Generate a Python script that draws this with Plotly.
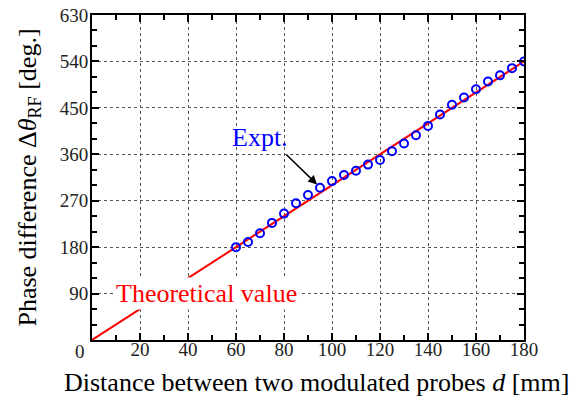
import plotly.graph_objects as go

d_expt = [60, 65, 70, 75, 80, 85, 90, 95, 100, 105, 110, 115, 120, 125, 130,
          135, 140, 145, 150, 155, 160, 165, 170, 175, 180]
theta_expt = [180, 190, 207, 227, 245, 265, 281, 295, 308, 320, 328, 340, 349, 366, 381,
              397, 415, 437, 456, 470, 486, 501, 513, 527, 540]
d_theory = [0, 180]
theta_theory = [0, 540]

x_ticks = [0, 20, 40, 60, 80, 100, 120, 140, 160, 180]
x_ticktext = ["", "20", "40", "60", "80", "100", "120", "140", "160", "180"]
y_ticks = [0, 90, 180, 270, 360, 450, 540, 630]
y_ticktext = ["", "90", "180", "270", "360", "450", "540", "630"]
origin_label = "0"

FONT = "Liberation Serif"

fig = go.Figure()
fig.add_trace(go.Scatter(x=d_theory, y=theta_theory, mode="lines",
                         line=dict(color="#ff0000", width=2), showlegend=False))
fig.add_trace(go.Scatter(x=d_expt, y=theta_expt, mode="markers",
                         marker=dict(symbol="circle-open", size=8, color="#0000ff",
                                     line=dict(width=2, color="#0000ff")),
                         showlegend=False))

fig.add_annotation(x=47.5, y=91, xref="x", yref="y", text="Theoretical value",
                   showarrow=False, font=dict(family=FONT, size=26, color="#ff0000"),
                   bgcolor="white", borderpad=1)
fig.add_annotation(x=95, y=296, ax=-35, ay=-34, xref="x", yref="y",
                   text="", showarrow=True, arrowhead=2, arrowsize=1.2,
                   arrowwidth=1.5, arrowcolor="black", standoff=4)
fig.add_annotation(x=70, y=392, xref="x", yref="y", text="Expt.",
                   showarrow=False, font=dict(family=FONT, size=26, color="#0000ff"))
# shared origin label
fig.add_annotation(x=-0.028, y=-0.036, xref="paper", yref="paper", text=origin_label,
                   xanchor="center", yanchor="middle",
                   showarrow=False, font=dict(family=FONT, size=19, color="#222222"))
# x-axis title
fig.add_annotation(x=0.52, y=-0.131, xref="paper", yref="paper",
                   xanchor="center", yanchor="middle",
                   text="Distance between two modulated probes <i>d</i> [mm]",
                   showarrow=False, font=dict(family=FONT, size=26, color="black"))

axis_common = dict(
    showline=True, linecolor="black", linewidth=2, mirror="ticks",
    ticks="inside", ticklen=7, tickwidth=2, tickcolor="black",
    showgrid=True, gridcolor="#555555", griddash="dot", gridwidth=1,
    zeroline=False, automargin=False,
    tickfont=dict(family=FONT, size=19, color="#222222"),
)

fig.update_xaxes(range=[0, 180], tickvals=x_ticks, ticktext=x_ticktext, ticklabelstandoff=-9,
                 minor=dict(dtick=10, ticks="inside", ticklen=5, tickwidth=2,
                            tickcolor="black", showgrid=False),
                 **axis_common)
fig.update_yaxes(range=[0, 630], tickvals=y_ticks, ticktext=y_ticktext, ticklabelstandoff=-2,
                 minor=dict(dtick=30, ticks="inside", ticklen=5, tickwidth=2,
                            tickcolor="black", showgrid=False),
                 title=dict(text="Phase difference Δ<i>θ</i><sub>RF</sub> [deg.]",
                            font=dict(family=FONT, size=26, color="black"), standoff=16),
                 **axis_common)

fig.update_layout(width=584, height=399, margin=dict(l=92, r=60, t=15, b=59),
                  plot_bgcolor="white", paper_bgcolor="white")

fig.write_html("out.html")
